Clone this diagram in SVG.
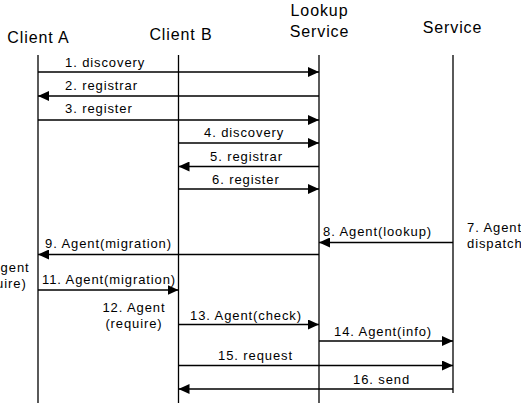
<svg xmlns="http://www.w3.org/2000/svg" width="521" height="403" viewBox="0 0 521 403">
<style>
text{font-family:"Liberation Sans",Arial,sans-serif;fill:#000}
.h{font-size:16px;letter-spacing:0.9px;text-anchor:middle}
.m{font-size:13px;letter-spacing:0.9px}
.c{text-anchor:middle}
.life{stroke:#000;stroke-width:1.3;fill:none}
.msg{stroke:#000;stroke-width:1.3;fill:none;marker-end:url(#arr)}
</style>
<defs>
<marker id="arr" markerUnits="userSpaceOnUse" markerWidth="12" markerHeight="10" refX="11" refY="5" orient="auto">
<path d="M0,0 L11,5 L0,10 Z" fill="#000"/>
</marker>
</defs>
<g id="clientA">
<text class="h" x="38.5" y="43">Client A</text>
<line class="life" x1="38" y1="55" x2="38" y2="403"/>
</g>
<g id="clientB">
<text class="h" x="181" y="40">Client B</text>
<line class="life" x1="178.5" y1="55" x2="178.5" y2="403"/>
</g>
<g id="lookup">
<text class="h" x="319.5" y="16">Lookup</text>
<text class="h" x="319.5" y="37">Service</text>
<line class="life" x1="319" y1="55" x2="319" y2="403"/>
</g>
<g id="service">
<text class="h" x="452.5" y="33">Service</text>
<line class="life" x1="453" y1="55" x2="453" y2="393"/>
</g>
<g id="connectors">
<line class="msg" x1="38" y1="72" x2="319" y2="72"/>
<line class="msg" x1="319" y1="96" x2="38" y2="96"/>
<line class="msg" x1="38" y1="120" x2="319" y2="120"/>
<line class="msg" x1="178.5" y1="143" x2="319" y2="143"/>
<line class="msg" x1="319" y1="166.5" x2="178.5" y2="166.5"/>
<line class="msg" x1="178.5" y1="189" x2="319" y2="189"/>
<line class="msg" x1="453" y1="242.5" x2="319" y2="242.5"/>
<line class="msg" x1="319" y1="254.5" x2="38" y2="254.5"/>
<line class="msg" x1="38" y1="290" x2="178.5" y2="290"/>
<line class="msg" x1="178.5" y1="324.5" x2="319" y2="324.5"/>
<line class="msg" x1="319" y1="341" x2="453" y2="341"/>
<line class="msg" x1="178.5" y1="365.5" x2="453" y2="365.5"/>
<line class="msg" x1="453" y1="389" x2="178.5" y2="389"/>
</g>
<g id="labels">
<text class="m" x="65" y="67">1. discovery</text>
<text class="m" x="65" y="90">2. registrar</text>
<text class="m" x="65" y="113">3. register</text>
<text class="m" x="204" y="137">4. discovery</text>
<text class="m" x="210" y="161">5. registrar</text>
<text class="m" x="212" y="184">6. register</text>
<text class="m" x="467" y="232">7. Agent</text>
<text class="m" x="467" y="248">dispatch</text>
<text class="m" x="323" y="236">8. Agent(lookup)</text>
<text class="m" x="45" y="248">9. Agent(migration)</text>
<text class="m c" x="-2" y="272">10. Agent</text>
<text class="m c" x="-2" y="288">(require)</text>
<text class="m" x="42" y="284">11. Agent(migration)</text>
<text class="m c" x="134" y="312">12. Agent</text>
<text class="m c" x="134" y="328">(require)</text>
<text class="m" x="190" y="320">13. Agent(check)</text>
<text class="m" x="334" y="336">14. Agent(info)</text>
<text class="m" x="218" y="360">15. request</text>
<text class="m" x="353" y="384">16. send</text>
</g>
</svg>
